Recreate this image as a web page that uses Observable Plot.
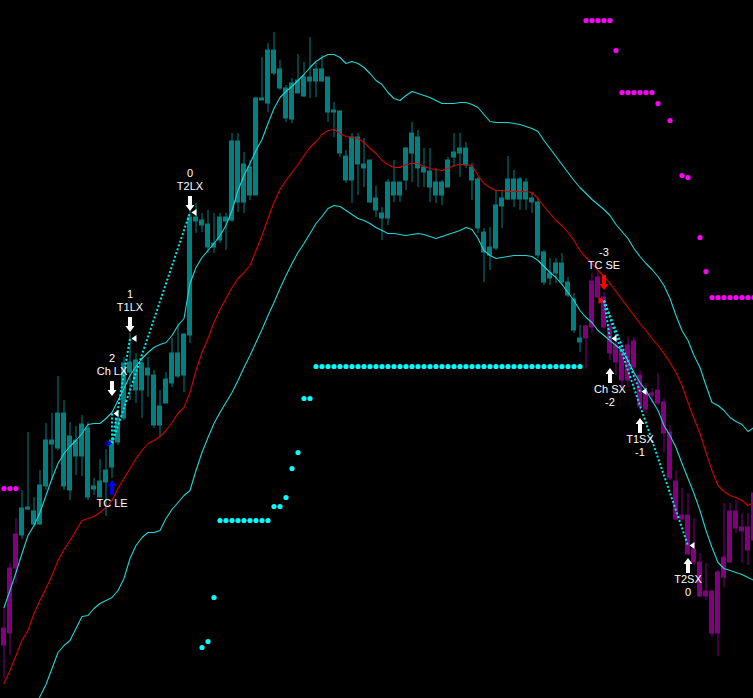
<!DOCTYPE html>
<html><head><meta charset="utf-8">
<script src="https://cdn.jsdelivr.net/npm/d3@7"></script>
<script src="https://cdn.jsdelivr.net/npm/@observablehq/plot@0.6"></script>
<style>html,body{margin:0;padding:0;background:#000;overflow:hidden}#chart svg{display:block}</style>
</head><body><div id="chart"></div>
<script>
// ---- price bars (index = bar number) ----
const high = [93,137,182,210,268,203,230,277,287,324,
300,278,274,285,278,222,241,251,262,290,
343,367,347,343,343,330,310,328,362,377,
367,490,497,487,490,487,487,487,567,567,
548,540,603,643,657,668,640,615,622,646,
638,663,637,645,623,598,590,550,567,567,
562,540,514,493,521,540,518,553,578,570,
552,552,532,520,543,567,567,558,537,523,
472,473,510,510,544,530,523,522,507,502,
450,442,442,447,423,407,375,375,427,430,
408,377,362,360,363,363,330,317,312,327,
302,275,230,212,207,182,147,137,110,130,
197,197,200,187,187,215];
const low = [22,45,117,161,190,173,175,210,220,250,
210,200,225,224,200,205,203,184,222,255,
280,300,297,282,303,272,263,297,313,322,
308,357,467,468,447,447,457,450,478,488,
487,500,505,600,588,625,610,578,577,607,
603,602,603,618,578,563,543,517,497,505,
513,497,483,460,475,498,498,510,518,513,
513,498,497,495,513,533,523,532,500,467,
418,430,450,472,500,493,490,490,487,442,
415,415,417,415,403,367,348,332,367,402,
371,340,325,313,313,313,290,287,297,295,
248,220,180,180,145,135,103,100,63,44,
113,137,167,137,135,155];
const open = [72,132,166,192,193,189,215,260,260,287,
287,264,260,276,272,214,219,230,260,282,
337,338,340,337,332,325,294,321,347,347,
366,483,483,480,476,457,483,483,559,559,
536,533,602,602,650,650,631,612,617,620,
623,623,631,631,623,590,589,544,563,563,
536,540,502,487,518,518,518,552,567,563,
533,529,518,518,540,548,552,552,533,521,
468,453,495,502,521,521,521,518,502,498,
448,427,437,437,418,401,362,374,419,423,
403,373,355,350,355,359,325,309,307,310,
298,268,219,185,185,151,138,109,109,128,
143,189,189,173,173,207];
const close = [55,67,132,165,191,176,176,214,256,252,
214,210,244,244,203,211,203,218,233,258,
282,328,310,310,325,275,275,297,317,324,
325,365,479,475,453,453,460,479,480,498,
498,505,505,600,597,627,612,582,581,607,
604,619,619,619,588,588,547,520,520,536,
532,498,490,482,482,505,505,520,547,532,
528,513,505,505,513,543,547,535,520,472,
448,445,452,494,501,501,501,501,498,445,
418,422,427,418,405,370,358,362,373,403,
373,347,338,320,320,333,294,291,305,297,
267,222,181,181,146,138,104,104,67,67,
123,138,172,169,150,160];
// bars drawn in the "short" colour (index ranges, inclusive)
const shortRanges = [[0, 2], [97, 125]];

// ---- channel ----
const upper = [93,110,128,147,165,175,188,205,222,237,
247,254,260,267,276,277,277,282,288,300,
312,325,334,342,348,353,356,358,365,375,
382,417,433,443,450,457,465,475,490,510,
525,537,550,561,577,592,603,609,614,620,
626,633,639,643,646,646,643,637,639,637,
633,627,620,616,608,602,600,605,609,607,
605,603,600,597,597,597,598,598,596,593,
586,579,578,578,578,577,576,574,572,569,
560,552,544,536,528,520,513,507,501,496,
491,485,476,469,462,452,444,437,431,424,
415,402,385,370,360,345,333,315,298,295,
290,283,279,276,269,273];
const middle = [17,30,45,60,70,87,100,112,125,140,
151,160,170,180,182,184,188,193,200,212,
222,232,242,250,257,260,264,270,278,287,
293,308,330,348,362,378,391,402,413,422,
428,435,450,465,482,498,511,520,528,536,
545,553,559,566,570,571,567,564,563,562,
558,552,547,540,536,533,533,536,537,537,
534,532,531,530,532,535,536,536,535,525,
517,513,510,510,509,509,509,509,508,502,
494,487,480,475,468,460,450,443,437,430,
424,417,409,401,393,385,377,370,362,355,
347,338,328,315,298,282,267,248,230,215,
209,205,203,200,195,198];
const lowerStart = 5;
const lower = [-9,4,16,32,48,
55,60,72,84,85,92,97,100,103,110,
122,142,155,163,168,168,170,182,191,198,
205,210,230,248,263,277,288,298,308,320,
333,345,358,371,385,398,412,425,437,448,
457,467,477,484,492,495,494,490,486,482,
480,477,473,470,467,467,466,465,466,467,
466,464,462,464,466,468,470,473,471,462,
450,445,442,443,444,445,445,445,444,440,
434,428,423,416,408,400,390,383,378,370,
365,360,355,350,340,328,318,310,300,290,
275,265,253,237,222,207,190,170,153,138,
132,130,128,126,123,120];

// ---- trailing stops ----
const longStopStart = 33;
const longStop = [53,59,103,180,180,180,180,180,180,180,180,180,194,194,203,232,248,302,302,
334,334,334,334,334,334,334,334,334,334,334,334,334,334,334,334,334,334,334,334,334,334,334,
334,334,334,334,334,334,334,334,334,334,334,334,334,334,334,334,334,334,334,334,334,334];
const shortStopIdx = [0,1,2,97,98,99,100,101,102,103,104,105,106,107,108,109,111,113,114,116,117,118,119,120,121,122,123,124,125];
const shortStop = [212,212,212,680,680,680,680,680,650,608,608,608,608,608,608,597,580,525,523,463,429,403,403,403,403,403,403,403,403];

// ---- trades ----
const entryIdx = [18, 100];
const entryPrice = [257, 400];
const entrySide = ["L", "S"];
const entryName = ["TC LE", "TC SE"];
const entryNum = ["", "-3"];
const entryArrow = [213, 418];
const exitIdx = [18, 21, 31, 101, 106, 114];
const exitPrice = [287, 362, 488, 362, 309, 155];
const exitSide = ["L", "L", "L", "S", "S", "S"];
const exitName = ["Ch LX", "T1LX", "T2LX", "Ch SX", "T1SX", "T2SX"];
const exitNum = ["2", "1", "0", "-2", "-1", "0"];
const exitArrow = [312, 376, 497, 325, 275, 135];

// ---- build tables ----
const isShort = i => shortRanges.some(([a, b]) => i >= a && i <= b);
const bars = high.map((h, i) => ({i, high: h, low: low[i], open: open[i], close: close[i], short: isShort(i)}));
const bandU = upper.map((v, i) => ({i, v}));
const bandM = middle.map((v, i) => ({i, v}));
const bandL = lower.map((v, k) => ({i: k + lowerStart, v}));
const lStop = longStop.map((v, k) => ({i: k + longStopStart, v}));
const sStop = shortStop.map((v, k) => ({i: shortStopIdx[k], v}));
const entries = entryIdx.map((i, k) => ({i, p: entryPrice[k], side: entrySide[k], name: entryName[k], num: entryNum[k], arrow: entryArrow[k]}));
const exits = exitIdx.map((i, k) => ({i, p: exitPrice[k], side: exitSide[k], name: exitName[k], num: exitNum[k], arrow: exitArrow[k]}));
const links = exits.map(e => { const en = entries.find(x => x.side === e.side); return {x1: en.i, y1: en.p, x2: e.i, y2: e.p}; });

// ---- glyph shapes ----
const arrowDown = {draw(c) { c.moveTo(-2,-7.5); c.lineTo(2,-7.5); c.lineTo(2,1.5); c.lineTo(4.5,1.5); c.lineTo(0,7.5); c.lineTo(-4.5,1.5); c.lineTo(-2,1.5); c.closePath(); }};
const arrowUp = {draw(c) { c.moveTo(-2,7.5); c.lineTo(2,7.5); c.lineTo(2,-1.5); c.lineTo(4.5,-1.5); c.lineTo(0,-7.5); c.lineTo(-4.5,-1.5); c.lineTo(-2,-1.5); c.closePath(); }};
const triLeft = {draw(c) { c.moveTo(-2.5,0); c.lineTo(2.5,-3.5); c.lineTo(2.5,3.5); c.closePath(); }};
const triRight = {draw(c) { c.moveTo(3,0); c.lineTo(-3,-3.5); c.lineTo(-3,3.5); c.closePath(); }};

const TEAL = "#008080", PURPLE = "#800080", BAND = "#1fd6d6", RED = "#d80000";
const font = {fontFamily: "'Liberation Sans', Arial, sans-serif", fontSize: 11, fill: "white"};

const longBars = bars.filter(d => !d.short), shortBars = bars.filter(d => d.short);
const candle = (data, color) => [
  Plot.ruleX(data, {x: "i", y1: "low", y2: "high", stroke: color, strokeWidth: 1}),
  Plot.rect(data, {x1: d => d.i - 0.4167, x2: d => d.i + 0.4167, y1: "close", y2: "open", fill: color, insetTop: -0.5, insetBottom: -0.5})
];

const chart = Plot.plot({
  width: 753, height: 698, margin: 0,
  x: {type: "linear", domain: [-0.5, 125], range: [0.5, 753.5], axis: null},
  y: {domain: [2, 700], axis: null},
  style: {background: "#000", overflow: "hidden"},
  marks: [
    ...candle(longBars, TEAL),
    ...candle(shortBars, PURPLE),
    Plot.line(bandU, {x: "i", y: "v", stroke: BAND, strokeWidth: 1.1, clip: true}),
    Plot.line(bandM, {x: "i", y: "v", stroke: RED, strokeWidth: 1.1, clip: true}),
    Plot.line(bandL, {x: "i", y: "v", stroke: BAND, strokeWidth: 1.1, clip: true}),
    Plot.dot(lStop, {x: "i", y: "v", r: 2.6, fill: "#00ffff", stroke: "none"}),
    Plot.dot(sStop, {x: "i", y: "v", r: 2.6, fill: "#ff00ff", stroke: "none"}),
    Plot.link(links, {x1: "x1", y1: "y1", x2: "x2", y2: "y2", stroke: "#00e8e8", strokeWidth: 2, strokeDasharray: "2,2"}),
    // entries
    Plot.dot(entries.filter(d => d.side === "L"), {x: "i", y: "p", symbol: triRight, r: 4, fill: "#0000f0", stroke: "none", dx: -2.5}),
    Plot.dot(entries.filter(d => d.side === "S"), {x: "i", y: "p", symbol: triRight, r: 4, fill: "#ff0000", stroke: "none", dx: -2.5}),
    Plot.dot(entries.filter(d => d.side === "L"), {x: "i", y: "arrow", symbol: arrowUp, r: 8, fill: "#0000f0", stroke: "none"}),
    Plot.dot(entries.filter(d => d.side === "S"), {x: "i", y: "arrow", symbol: arrowDown, r: 8, fill: "#ff0000", stroke: "none"}),
    Plot.text(entries.filter(d => d.side === "L"), {x: "i", y: "arrow", text: "name", dy: 16, ...font}),
    Plot.text(entries.filter(d => d.side === "S"), {x: "i", y: "arrow", text: "name", dy: -17, ...font}),
    Plot.text(entries.filter(d => d.side === "S"), {x: "i", y: "arrow", text: "num", dy: -30, ...font}),
    // exits
    Plot.dot(exits, {x: "i", y: "p", symbol: triLeft, r: 4, fill: "white", stroke: "none", dx: 4}),
    Plot.dot(exits.filter(d => d.side === "L"), {x: "i", y: "arrow", symbol: arrowDown, r: 8, fill: "white", stroke: "none"}),
    Plot.dot(exits.filter(d => d.side === "S"), {x: "i", y: "arrow", symbol: arrowUp, r: 8, fill: "white", stroke: "none"}),
    Plot.text(exits.filter(d => d.side === "L"), {x: "i", y: "arrow", text: "name", dy: -17, ...font}),
    Plot.text(exits.filter(d => d.side === "L"), {x: "i", y: "arrow", text: "num", dy: -30, ...font}),
    Plot.text(exits.filter(d => d.side === "S"), {x: "i", y: "arrow", text: "name", dy: 14, ...font}),
    Plot.text(exits.filter(d => d.side === "S"), {x: "i", y: "arrow", text: "num", dy: 27, ...font})
  ]
});
document.getElementById("chart").appendChild(chart);
</script>
</body></html>
